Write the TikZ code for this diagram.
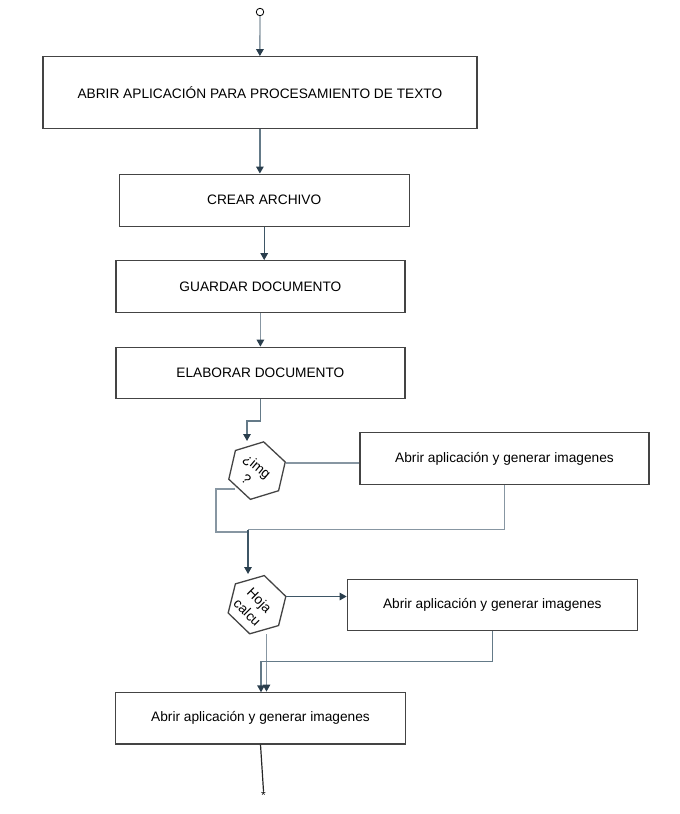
\documentclass[tikz,border=0pt]{standalone}
\usepackage{fontspec}
\setmainfont{Liberation Sans}
\usetikzlibrary{arrows.meta,shapes.geometric}
\definecolor{boxc}{RGB}{68,68,68}
\definecolor{lnL}{RGB}{135,150,162}
\definecolor{lnM}{RGB}{100,122,136}
\definecolor{lnD}{RGB}{62,86,102}
\definecolor{tipc}{RGB}{42,62,77}
\begin{document}
\begin{tikzpicture}[x=1pt,y=-1pt,
  box/.style={draw=boxc, line width=1.3pt, rectangle, inner sep=0pt, font=\fontsize{13.7}{16}\selectfont, text=black},
  hexa/.style={draw=boxc, line width=1.3pt, regular polygon, regular polygon sides=6, minimum size=59pt, inner sep=0pt},
  conn/.style={line width=1.4pt, draw=lnL},
  arr/.style={-{Triangle[length=7pt,width=7.5pt,color=tipc]}},
  htext/.style={font=\fontsize{13.7}{17}\selectfont, align=center, inner sep=0pt, text=black}
]
\useasboundingbox (0,0) rectangle (680,814);

% start
\node[circle, draw=black, line width=0.8pt, minimum size=7.5pt, inner sep=0pt] (start) at (260,12) {};

% boxes
\node[box, minimum width=434pt, minimum height=71.5pt] (b1) at (259.9,92.5) {ABRIR APLICACIÓN PARA PROCESAMIENTO DE TEXTO};
\node[box, minimum width=290pt, minimum height=52pt] (b2) at (264.2,200.2) {CREAR ARCHIVO};
\node[box, minimum width=289pt, minimum height=51.5pt] (b3) at (260.4,286.5) {GUARDAR DOCUMENTO};
\node[box, minimum width=289pt, minimum height=51pt] (b4) at (260.4,372.8) {ELABORAR DOCUMENTO};
\node[box, minimum width=289pt, minimum height=51.5pt] (b5) at (504.5,458.5) {Abrir aplicación y generar imagenes};
\node[box, minimum width=290pt, minimum height=51.5pt] (b6) at (492.3,605) {Abrir aplicación y generar imagenes};
\node[box, minimum width=289.6pt, minimum height=51.7pt] (b7) at (260.5,718.1) {Abrir aplicación y generar imagenes};

% hexagons
\node[hexa, rotate=-43] (h1) at (257,470.6) {};
\node[htext, rotate=-40] (t1) at (252,472.5) {¿img\\?};
\node[hexa, rotate=-44, minimum size=60pt] (h2) at (257,604.7) {};
\node[htext, rotate=-45] (t2) at (253.5,606.5) {Hoja\\calcu};

% end marker
\node[anchor=north, inner sep=0.5pt, font=\fontsize{12}{12}\selectfont] (ast) at (263.5,791) {*};

% helper coordinates
\coordinate (h1in) at (247,441);
\coordinate (h1r) at (286,463);
\coordinate (h1l) at (235,489);
\coordinate (m1) at (248,532);
\coordinate (m2) at (248,529.5);
\coordinate (h2in) at (248,574);
\coordinate (h2r) at (286,596.5);
\coordinate (h2b) at (266.5,634);
\coordinate (b7a) at (261,692.3);

% connectors
\draw[conn,arr] (start) -- (b1.north);
\draw[conn,draw=lnM,arr] (b1.south) -- (b1.south |- b2.north);
\draw[conn,draw=lnD,arr] (b2.south) -- (b2.south |- b3.north);
\draw[conn,arr] (b3.south) -- (b3.south |- b4.north);
\draw[conn,draw=lnM,arr] (b4.south) -- ++(0,22) -| (h1in);
\draw[conn] (h1r) -- (h1r -| b5.west);
\draw[conn] (h1l) -| (216,532) -- (m1);
\draw[conn] (b5.south) |- (m2);
\draw[conn,draw=lnD,arr] (m2) -- (h2in);
\draw[conn,draw=lnD,arr] (h2r) -- (h2r -| b6.west);
\draw[conn,arr] (h2b) -- (h2b |- b7.north);
\draw[conn,draw=lnM,arr] (b6.south) -- ++(0,30) -| (b7a);
\draw[line width=1.2pt, draw=black!85] (b7.south) -- (ast.north);
\end{tikzpicture}
\end{document}
